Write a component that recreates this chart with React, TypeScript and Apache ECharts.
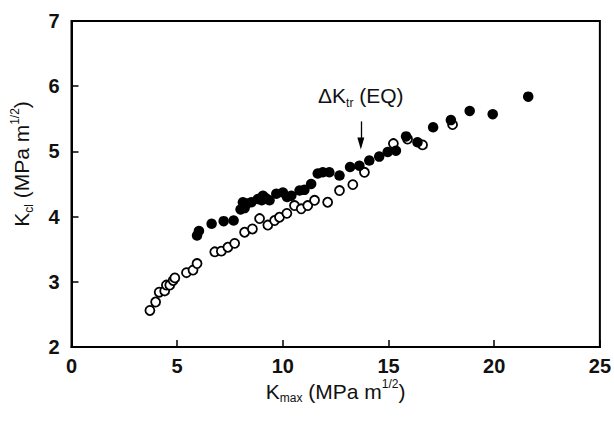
import React, { useEffect, useRef } from "react";
import * as echarts from "echarts";

const xTicks = [0, 5, 10, 15, 20, 25];
const yTicks = [2, 3, 4, 5, 6, 7];

// Open circles: [Kmax, Kcl]
const openX = [3.71, 3.98, 4.15, 4.41, 4.49, 4.65, 4.81, 4.89, 5.44, 5.75, 5.94, 6.78, 7.09, 7.40, 7.72, 8.19, 8.56, 8.90, 9.29, 9.61, 9.84, 10.19, 10.55, 10.87, 11.18, 11.50, 12.12, 12.68, 13.31, 13.86, 15.23, 15.90, 16.61, 18.03];
const openY = [2.56, 2.69, 2.84, 2.86, 2.95, 2.95, 3.02, 3.06, 3.14, 3.18, 3.28, 3.46, 3.47, 3.53, 3.59, 3.76, 3.81, 3.97, 3.87, 3.94, 3.99, 4.05, 4.17, 4.12, 4.17, 4.25, 4.22, 4.40, 4.49, 4.68, 5.12, 5.19, 5.10, 5.41];

// Filled circles: [Kmax, Kcl]
const filledX = [5.94, 6.03, 6.63, 7.20, 7.67, 8.00, 8.11, 8.19, 8.30, 8.51, 8.82, 9.00, 9.06, 9.20, 9.37, 9.69, 10.00, 10.20, 10.40, 10.79, 11.02, 11.34, 11.65, 11.89, 12.20, 12.68, 13.18, 13.62, 14.09, 14.56, 14.96, 15.35, 15.83, 16.37, 17.11, 17.95, 18.84, 19.93, 21.61];
const filledY = [3.71, 3.78, 3.89, 3.93, 3.94, 4.11, 4.22, 4.13, 4.20, 4.22, 4.27, 4.25, 4.32, 4.28, 4.25, 4.35, 4.37, 4.30, 4.32, 4.40, 4.41, 4.50, 4.66, 4.68, 4.68, 4.63, 4.76, 4.78, 4.86, 4.92, 4.99, 5.01, 5.23, 5.14, 5.37, 5.48, 5.62, 5.57, 5.84];

// Annotation (ΔKtr (EQ)) in data coordinates
const annX = 13.69;
const annTextY = 5.85;
const arrowTop = 5.46;
const arrowTip = 5.12;

const FONT = "'Liberation Sans', Arial, Helvetica, sans-serif";

export default function App() {
  const ref = useRef<HTMLDivElement>(null);
  useEffect(() => {
    document.body.style.margin = "0";
    const chart = echarts.init(ref.current!, null, { renderer: "svg" });
    const openData = openX.map((x, i) => [x, openY[i]]);
    const filledData = filledX.map((x, i) => [x, filledY[i]]);
    const rich = {
      n: { fontSize: 21, fontFamily: FONT, color: "#111", lineHeight: 26, verticalAlign: "middle" },
      sub: { fontSize: 12, fontFamily: FONT, color: "#111", lineHeight: 26, verticalAlign: "bottom" },
      sup: { fontSize: 12, fontFamily: FONT, color: "#111", lineHeight: 26, verticalAlign: "top" },
    };
    chart.setOption({
      animation: false,
      backgroundColor: "#fff",
      grid: { left: 71.5, right: 13, top: 21, bottom: 80, show: true, borderColor: "#000", borderWidth: 2 },
      xAxis: {
        type: "value",
        min: 0,
        max: 25,
        interval: 5,
        name: "{n|K}{sub|max}{n| (MPa m}{sup|1/2}{n|)}",
        nameLocation: "middle",
        nameGap: 31,
        nameMoveOverlap: false,
        nameTextStyle: { rich },
        axisLine: { show: true, onZero: false, lineStyle: { color: "#000", width: 2 } },
        axisTick: { show: true, inside: true, length: 7, lineStyle: { color: "#000", width: 1.5 } },
        axisLabel: { color: "#111", fontSize: 20, fontWeight: "bold", fontFamily: FONT, margin: 9 },
        splitLine: { show: false },
      },
      yAxis: {
        type: "value",
        min: 2,
        max: 7,
        interval: 1,
        name: "{n|K}{sub|cl}{n| (MPa m}{sup|1/2}{n|)}",
        nameLocation: "middle",
        nameRotate: 90,
        nameGap: 37,
        nameMoveOverlap: false,
        nameTextStyle: { rich, padding: [0, 0, 0, 40] },
        axisLine: { show: true, onZero: false, lineStyle: { color: "#000", width: 2 } },
        axisTick: { show: true, inside: true, length: 7, lineStyle: { color: "#000", width: 1.5 } },
        axisLabel: { color: "#111", fontSize: 20, fontWeight: "bold", fontFamily: FONT, margin: 12 },
        splitLine: { show: false },
      },
      series: [
        {
          type: "scatter",
          name: "open",
          data: openData,
          symbol: "circle",
          symbolSize: 9,
          itemStyle: { color: "#fff", borderColor: "#000", borderWidth: 1.8, opacity: 1 },
          z: 2,
        },
        {
          type: "scatter",
          name: "filled",
          data: filledData,
          symbol: "circle",
          symbolSize: 10.5,
          itemStyle: { color: "#000", borderColor: "#000", borderWidth: 0, opacity: 1 },
          z: 3,
          markLine: {
            silent: true,
            symbol: ["none", "triangle"],
            symbolSize: [7, 12],
            lineStyle: { color: "#000", width: 1.3, type: "solid" },
            label: { show: false },
            data: [[{ coord: [annX, arrowTop] }, { coord: [annX, arrowTip] }]],
          },
          markPoint: {
            silent: true,
            symbol: "rect",
            symbolSize: 1,
            itemStyle: { color: "transparent" },
            label: {
              show: true,
              position: "inside",
              formatter: "{n|ΔK}{sub|tr}{n| (EQ)}",
              rich,
            },
            data: [{ coord: [annX, annTextY] }],
          },
        },
      ],
    });
    return () => chart.dispose();
  }, []);
  return <div ref={ref} style={{ width: 614, height: 427, position: "fixed", left: 0, top: 0 }} />;
}
